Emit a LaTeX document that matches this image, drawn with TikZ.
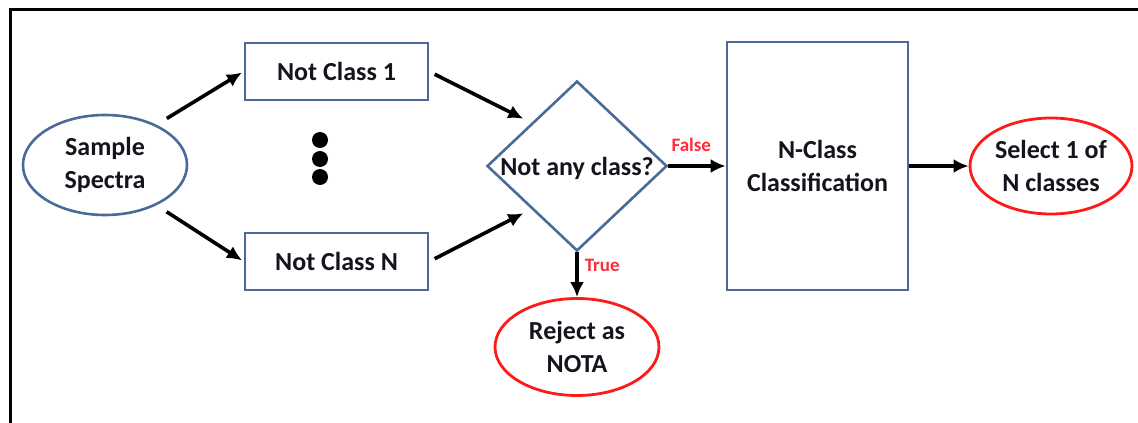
\documentclass[tikz,border=0pt]{standalone}
\usepackage{fontspec}
\setmainfont{Carlito}
\usetikzlibrary{shapes.geometric,arrows.meta}
\definecolor{boxblue}{HTML}{4A6A9A}
\definecolor{ovalred}{HTML}{FF1A1A}
\definecolor{labred}{HTML}{FF2A3A}
\definecolor{txt}{HTML}{14141C}
\begin{document}
\begin{tikzpicture}[x=1pt,y=-1pt,
 every node/.style={font=\fontsize{26}{33}\selectfont\bfseries, text=txt, align=center, inner sep=0pt},
 bluebox/.style={draw=boxblue, line width=2.6pt, rectangle},
 blueoval/.style={draw=boxblue, line width=2.6pt, ellipse},
 redoval/.style={draw=ovalred, line width=2.8pt, ellipse},
 decision/.style={draw=boxblue, line width=2.6pt, diamond},
 arr/.style={line width=3.6pt, -{Latex[length=15pt,width=14pt]}},
 dotn/.style={circle, fill=black, minimum size=16pt},
 cond/.style={font=\fontsize{19}{22}\selectfont\bfseries, text=labred}
]
\useasboundingbox (0,0) rectangle (1138,423);
\draw[line width=3pt] (10,423) -- (10,9) -- (1138,9);

\node[blueoval, minimum width=164pt, minimum height=100pt] (sample) at (105,165) {Sample\\Spectra};
\node[bluebox, minimum width=183pt, minimum height=57pt] (nc1) at (336.5,71.5) {Not Class 1};
\node[bluebox, minimum width=183pt, minimum height=57pt] (ncN) at (336.5,261.5) {Not Class N};
\node[dotn] (d1) at (320,140) {};
\node[dotn] (d2) at (320,159) {};
\node[dotn] (d3) at (320,177) {};
\node[decision, minimum width=180pt, minimum height=170pt, label={[yshift=-2pt]center:Not any class?}] (dec) at (577,166) {};
\node[bluebox, minimum width=181pt, minimum height=248pt] (ncc) at (817.5,166) {N-Class\\Classification};
\node[redoval, minimum width=162pt, minimum height=96pt] (select) at (1051,166) {Select 1 of\\N classes};
\node[redoval, minimum width=164pt, minimum height=97pt] (reject) at (577,347) {Reject as\\NOTA};

\draw[arr, shorten <=12pt, shorten >=2pt] (sample.38) -- (nc1.west);
\draw[arr, shorten <=12pt, shorten >=2pt] (sample.-38) -- (ncN.west);
\draw[arr, shorten <=6pt, shorten >=9pt] (nc1.east) -- (dec.north west);
\draw[arr, shorten <=6pt, shorten >=9pt] (ncN.east) -- (dec.south west);
\draw[arr] (dec.east) -- node[cond, above=13pt, pos=0.4] (flab) {False} (ncc.west);
\draw[arr] (ncc.east) -- (select.west);
\draw[arr] (dec.south) -- node[cond, right=6pt, pos=0.3] (tlab) {True} (reject.north);
\end{tikzpicture}
\end{document}
